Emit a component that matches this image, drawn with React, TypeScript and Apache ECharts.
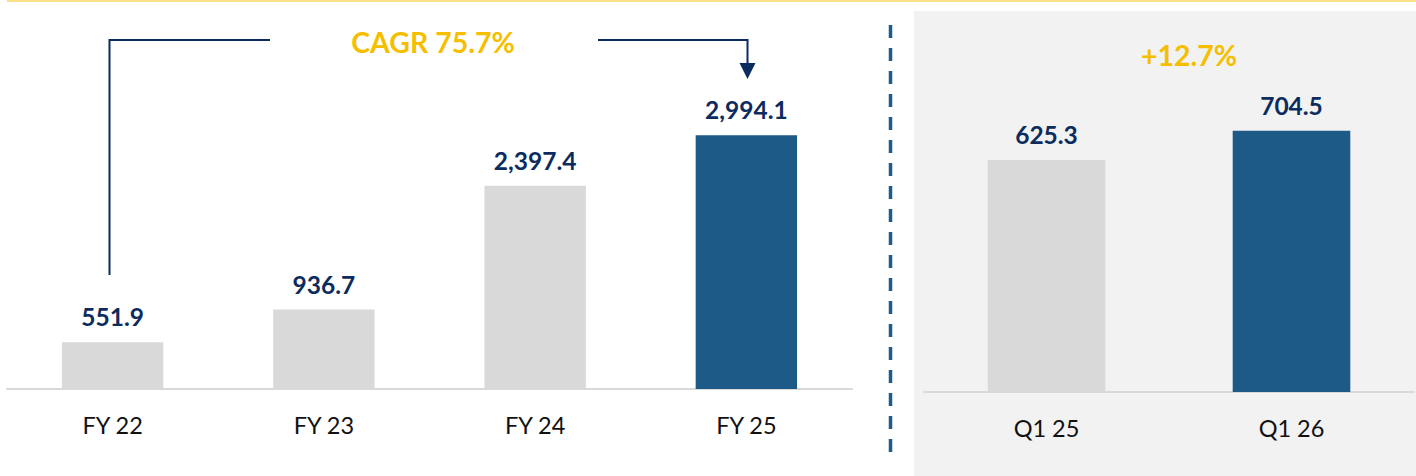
import React, { useEffect, useRef } from "react";
import * as echarts from "echarts";

const fyCategories = ["FY 22", "FY 23", "FY 24", "FY 25"];
const fyValues = [551.9, 936.7, 2397.4, 2994.1];
const qCategories = ["Q1 25", "Q1 26"];
const qValues = [625.3, 704.5];
const cagrLabel = "CAGR 75.7%";
const growthLabel = "+12.7%";

const GRAY = "#D9D9D9";
const BLUE = "#1D5A87";
const NAVY = "#0C2B5E";
const YELLOW = "#F5BF00";
const FONT = "Lato";

const fmt = (v: number) =>
  v.toLocaleString("en-US", { minimumFractionDigits: 1, maximumFractionDigits: 1 });

const barData = (vals: number[]) =>
  vals.map((v, i) => ({ value: v, itemStyle: { color: i === vals.length - 1 ? BLUE : GRAY } }));

const xAxisBase = (gridIndex: number, data: string[]) => ({
  type: "category",
  gridIndex,
  data,
  axisLine: { lineStyle: { color: GRAY, width: 2 } },
  axisTick: { show: false },
  axisLabel: { color: "#111", fontFamily: FONT, fontSize: 23.5, margin: 24 },
});

const seriesBase = (idx: number, vals: number[]) => ({
  type: "bar",
  xAxisIndex: idx,
  yAxisIndex: idx,
  data: barData(vals),
  barWidth: "48%",
  label: {
    show: true,
    position: "top",
    distance: 13,
    color: NAVY,
    fontFamily: FONT,
    fontWeight: "bold",
    fontSize: 24.5,
    formatter: (p: any) => fmt(p.value),
  },
});

export default function App() {
  const ref = useRef<HTMLDivElement>(null);
  useEffect(() => {
    document.body.style.margin = "0";
    document.body.style.overflow = "hidden";
    const chart = echarts.init(ref.current!, null, { renderer: "svg" });
    chart.setOption({
      animation: false,
      backgroundColor: "#ffffff",
      grid: [
        { left: 7, width: 845, top: 50, height: 339 },
        { left: 924, width: 490, top: 21, height: 371 },
      ],
      xAxis: [xAxisBase(0, fyCategories), xAxisBase(1, qCategories)],
      yAxis: [
        { type: "value", gridIndex: 0, min: 0, max: 4000, show: false },
        { type: "value", gridIndex: 1, min: 0, max: 1000, show: false },
      ],
      series: [seriesBase(0, fyValues), seriesBase(1, qValues)],
      graphic: [
        {
          type: "rect",
          z: -1,
          shape: { x: 914, y: 11, width: 502, height: 465 },
          style: { fill: "#F2F2F2" },
        },
        {
          type: "line",
          shape: { x1: 7, y1: 1, x2: 1416, y2: 1 },
          style: { stroke: "#FBE08A", lineWidth: 2 },
        },
        {
          type: "polyline",
          shape: { points: [[109.5, 275], [109.5, 40], [270, 40]] },
          style: { stroke: NAVY, lineWidth: 2, fill: null },
        },
        {
          type: "polyline",
          shape: { points: [[598, 40], [747.5, 40], [747.5, 65]] },
          style: { stroke: NAVY, lineWidth: 2, fill: null },
        },
        {
          type: "polygon",
          shape: { points: [[739.5, 63], [755.5, 63], [747.5, 79]] },
          style: { fill: NAVY },
        },
        {
          type: "text",
          x: 433,
          y: 42,
          style: {
            text: cagrLabel,
            fill: YELLOW,
            font: `bold 28.5px ${FONT}`,
            align: "center",
            verticalAlign: "middle",
          },
        },
        {
          type: "line",
          shape: { x1: 890.5, y1: 25, x2: 890.5, y2: 462 },
          style: { stroke: "#1F5B88", lineWidth: 3.5, lineDash: [13, 10] },
        },
        {
          type: "text",
          x: 1189,
          y: 55,
          style: {
            text: growthLabel,
            fill: YELLOW,
            font: `bold 28.5px ${FONT}`,
            align: "center",
            verticalAlign: "middle",
          },
        },
      ],
    });
    return () => chart.dispose();
  }, []);
  return <div ref={ref} style={{ width: 1416, height: 476 }} />;
}
